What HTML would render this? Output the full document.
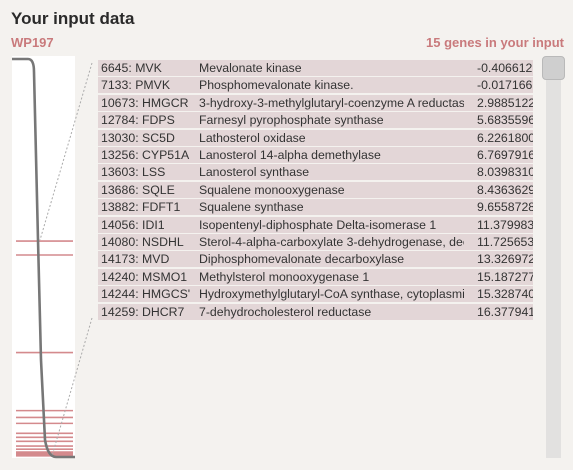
<!DOCTYPE html>
<html><head><meta charset="utf-8">
<style>
body{margin:0;width:573px;height:470px;background:#f4f2ef;font-family:"Liberation Sans",sans-serif;overflow:hidden;position:relative}
.t{position:absolute;left:11px;top:9px;font-size:17px;font-weight:bold;color:#2a2a2a}
.wp{position:absolute;left:11px;top:35px;font-size:13px;font-weight:bold;color:#c97a7c}
.cnt{position:absolute;right:9px;top:35px;font-size:13px;font-weight:bold;color:#c97a7c}
.row{position:absolute;left:98px;width:435px;height:16px;background:#e3d6d7;font-size:12.3px;color:#333;line-height:16px;overflow:hidden;white-space:nowrap}
.row span{position:absolute;top:0;overflow:hidden}
.sb{position:absolute;left:546px;top:57px;width:15px;height:401px;background:#e2e1e0}
.th{position:absolute;left:542px;top:56px;width:23px;height:24px;background:#cfcfcf;border:1px solid #b9b9b9;border-radius:4px;box-sizing:border-box}
</style></head><body>
<div class="t">Your input data</div>
<div class="wp">WP197</div>
<div class="cnt">15 genes in your input</div>
<svg id="plot" width="573" height="470" style="position:absolute;left:0;top:0"></svg>
<div id="tbl"></div>
<div class="sb"></div>
<div class="th"></div>
<script>
const ids=["6645: MVK","7133: PMVK","10673: HMGCR","12784: FDPS","13030: SC5D","13256: CYP51A","13603: LSS","13686: SQLE","13882: FDFT1","14056: IDI1","14080: NSDHL","14173: MVD","14240: MSMO1","14244: HMGCS'","14259: DHCR7"];
const descs=["Mevalonate kinase","Phosphomevalonate kinase.","3-hydroxy-3-methylglutaryl-coenzyme A reductase","Farnesyl pyrophosphate synthase","Lathosterol oxidase","Lanosterol 14-alpha demethylase","Lanosterol synthase","Squalene monooxygenase","Squalene synthase","Isopentenyl-diphosphate Delta-isomerase 1","Sterol-4-alpha-carboxylate 3-dehydrogenase, decarboxylating","Diphosphomevalonate decarboxylase","Methylsterol monooxygenase 1","Hydroxymethylglutaryl-CoA synthase, cytoplasmic","7-dehydrocholesterol reductase"];
const vals=["-0.406612","-0.017166","2.9885122","5.6835596","6.2261800","6.7697916","8.0398310","8.4363629","9.6558728","11.379983","11.725653","13.326972","15.187277","15.328740","16.377941"];
// gene rank fraction in the full ranked list (0 = top, 1 = bottom)
const ranks=[0.46,0.495,0.74,0.886,0.903,0.918,0.943,0.953,0.963,0.975,0.983,0.99,0.993,0.997,0.9995];
const tbl=document.getElementById('tbl');
ids.forEach((id,i)=>{
 const r=document.createElement('div');r.className='row';r.style.top=(60+i*17.4)+'px';
 
 
 r.innerHTML='<span style="left:3px;width:96px">'+id+'</span><span style="left:101px;width:265px">'+descs[i]+'</span><span style="left:379px;width:56px">'+vals[i]+'</span>';
 tbl.appendChild(r);
});
const NS='http://www.w3.org/2000/svg',svg=document.getElementById('plot');
function el(t,a){const e=document.createElementNS(NS,t);for(const k in a)e.setAttribute(k,a[k]);svg.appendChild(e);return e;}
const py0=58,py1=456;
const yOf=f=>py0+f*(py1-py0);
const bg=el('rect',{x:12,y:56,width:63,height:402,fill:'#fff'});


ranks.forEach(f=>{
 const l=el('line',{x1:16,x2:73,y1:yOf(f),y2:yOf(f),stroke:'#d48a8d','stroke-width':1.6});
 
 
});
const c=el('path',{d:'M12 59 L28 59 Q34 59 34 72 L38 240 L41 360 L45 440 Q48 457 56 457 L75 457',fill:'none',stroke:'#777','stroke-width':2.6});


const d1=el('line',{x1:92,y1:63,x2:40,y2:240,stroke:'#aaa','stroke-width':1,'stroke-dasharray':'2,2'});


const d2=el('line',{x1:92,y1:318,x2:52,y2:456,stroke:'#aaa','stroke-width':1,'stroke-dasharray':'2,2'});


</script>
</body></html>
